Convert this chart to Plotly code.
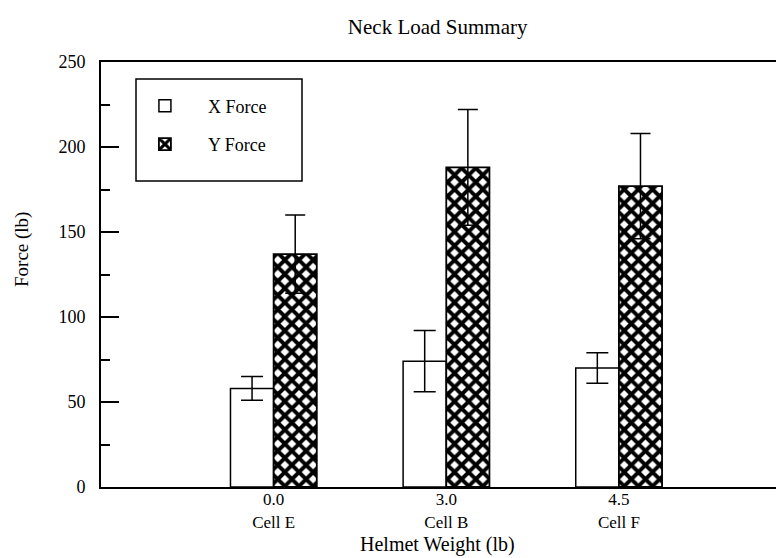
import plotly.graph_objects as go

categories = ["0.0<br>Cell E", "3.0<br>Cell B", "4.5<br>Cell F"]
x_force = [58, 74, 70]
x_err = [7, 18, 9]
y_force = [137, 188, 177]
y_err = [23, 34, 31]

FONT = "Liberation Serif, Times New Roman, serif"

fig = go.Figure()
fig.add_trace(go.Bar(
    x=categories, y=x_force, name="X Force", legendgroup="a",
    marker=dict(color="white", line=dict(color="black", width=1.5)),
    error_y=dict(type="data", array=x_err, color="black", thickness=1.5, width=11),
))
fig.add_trace(go.Bar(
    x=categories, y=y_force, name="Y Force", legendgroup="b",
    marker=dict(color="white", line=dict(color="black", width=1.8),
                pattern=dict(shape="x", size=10, solidity=0.62,
                             fgcolor="black", bgcolor="white", fgopacity=1)),
    error_y=dict(type="data", array=y_err, color="black", thickness=1.5, width=10),
))

fig.update_layout(
    width=776, height=558,
    margin=dict(l=101, r=0, t=62, b=71),
    paper_bgcolor="white", plot_bgcolor="white",
    font=dict(family=FONT, color="black", size=18),
    barmode="group", bargap=0.5, bargroupgap=0,
    title=dict(text="Neck Load Summary", x=0.564, xanchor="center",
               y=1 - 27 / 558, yanchor="middle",
               font=dict(family=FONT, size=21, color="black")),
    showlegend=True,
    legend=dict(x=0.031, y=0.94, xanchor="left", yanchor="top",
                bgcolor="rgba(0,0,0,0)", borderwidth=0,
                itemwidth=76, tracegroupgap=12,
                font=dict(family=FONT, size=18, color="black")),
    xaxis=dict(
        type="category", range=[-1, 2.91],
        showline=True, linecolor="black", linewidth=2, mirror=True,
        ticks="", showgrid=False, zeroline=False,
        tickfont=dict(family=FONT, size=17), ticklabelstandoff=-4,
    ),
    yaxis=dict(
        range=[0, 250], tickvals=[0, 50, 100, 150, 200, 250],
        showline=True, linecolor="black", linewidth=2,
        ticks="inside", ticklen=18, tickwidth=1.5, tickcolor="black",
        minor=dict(ticks="inside", ticklen=9, tickwidth=1.5, tickcolor="black", dtick=25),
        showgrid=False, zeroline=False, ticklabelstandoff=10,
        tickfont=dict(family=FONT, size=18),
    ),
    shapes=[dict(type="rect", xref="paper", yref="paper",
                 x0=(136 - 101) / 675, x1=(302 - 101) / 675,
                 y0=(487 - 181) / 425, y1=(487 - 79) / 425,
                 line=dict(color="black", width=1.5), fillcolor="rgba(0,0,0,0)")],
    annotations=[
        dict(text="Force (lb)", xref="paper", yref="paper",
             x=(22 - 101) / 675, y=(487 - 250) / 425, textangle=-90,
             xanchor="center", yanchor="middle", showarrow=False,
             font=dict(family=FONT, size=19)),
        dict(text="Helmet Weight (lb)", xref="paper", yref="paper",
             x=(437 - 101) / 675, y=(487 - 544) / 425,
             xanchor="center", yanchor="middle", showarrow=False,
             font=dict(family=FONT, size=20)),
    ],
)

fig.write_html("out.html")
